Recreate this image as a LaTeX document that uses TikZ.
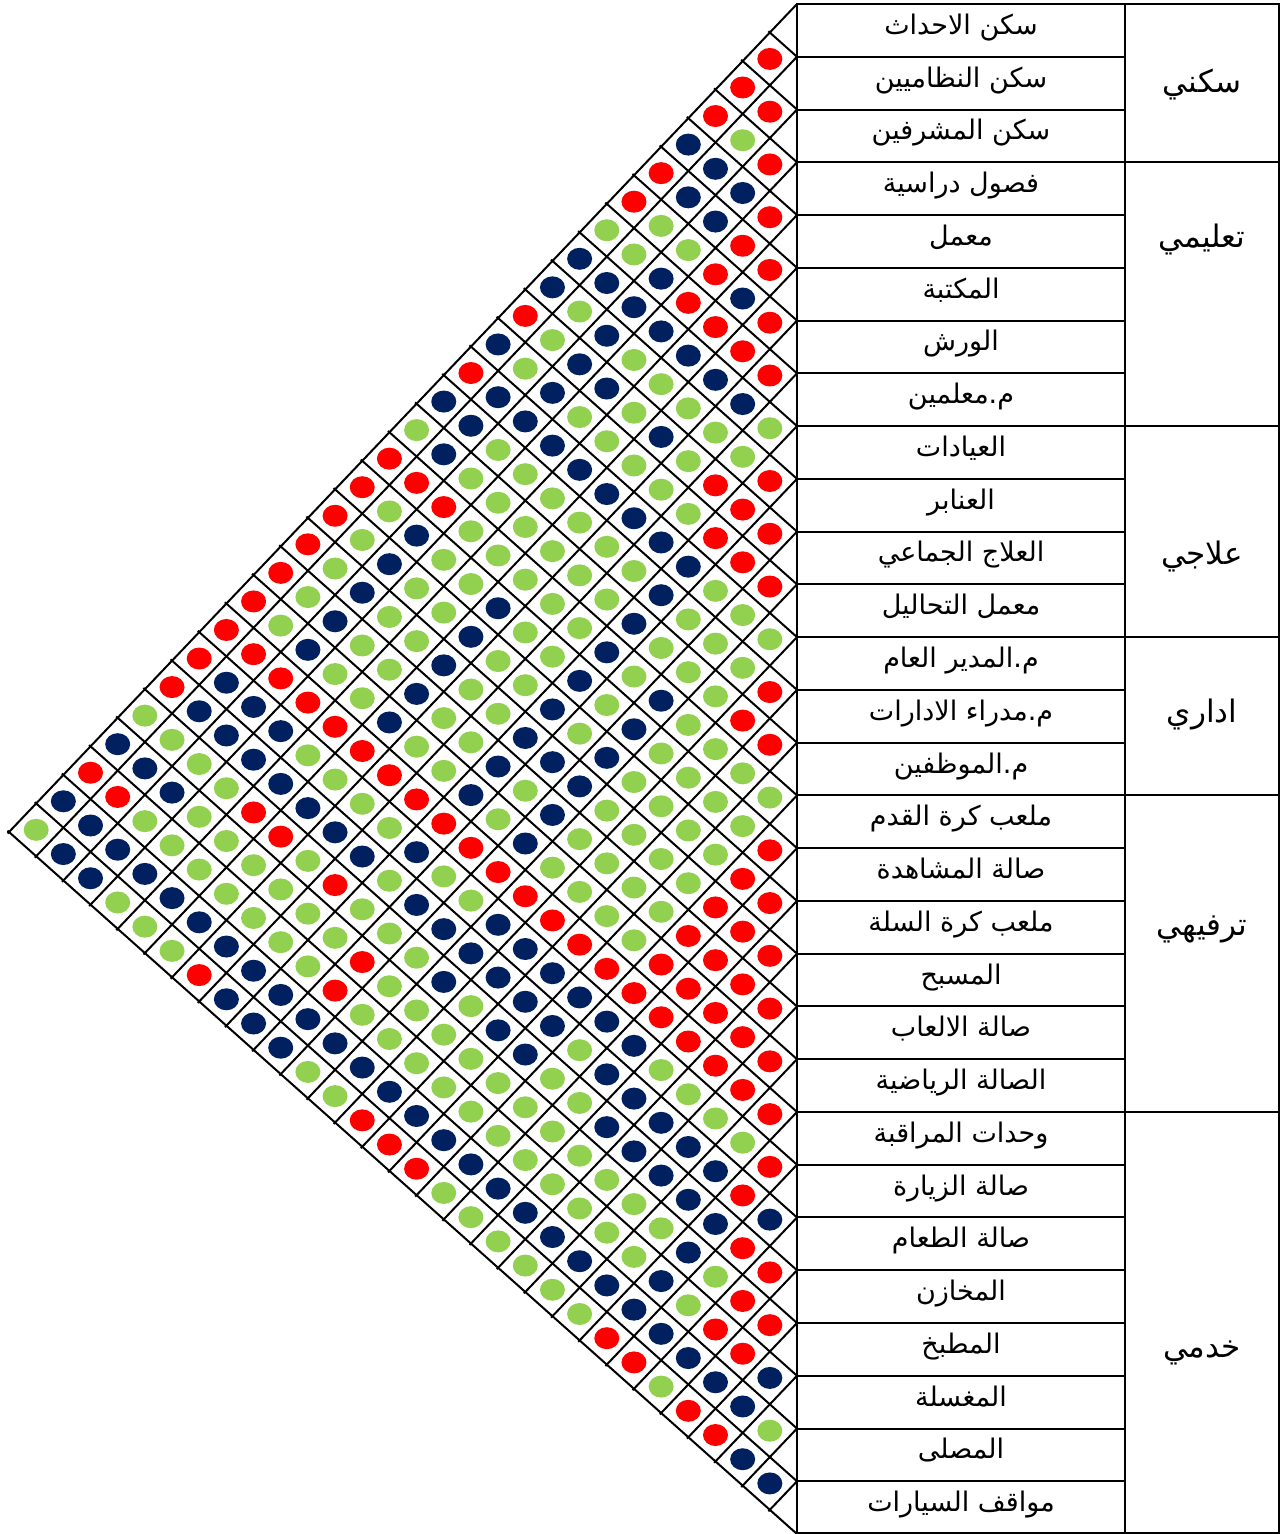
\documentclass[tikz,border=0pt]{standalone}
\usepackage{fontspec}
\newfontfamily\arabicfont[Script=Arabic]{DejaVu Sans}
\TeXXeTstate=1
\definecolor{cred}{HTML}{FF0000}
\definecolor{cnavy}{HTML}{002060}
\definecolor{cgreen}{HTML}{92D050}
\tikzset{
  dotR/.style={fill=cred},
  dotN/.style={fill=cnavy},
  dotG/.style={fill=cgreen},
  gridline/.style={line width=2pt, black, shorten >=-2pt},
  tabline/.style={line width=2pt, black},
  itemtext/.style={font=\arabicfont\fontsize{27}{32}\selectfont, anchor=base, inner sep=0pt},
  cattext/.style={font=\arabicfont\fontsize{31}{36}\selectfont, anchor=base, inner sep=0pt},
}
\begin{document}
\begin{tikzpicture}[x=1pt, y=-1pt]
\useasboundingbox (0,0) rectangle (1281,1534);
% key points of the triangle
\coordinate (A) at (797,4);
\coordinate (B) at (797,1534);
\coordinate (C) at (9,832);
% grid lines: down-left family
\foreach \k in {0,...,28} {
  \pgfmathsetmacro\sy{4+52.759*\k}
  \pgfmathsetmacro\ex{797-27.172*(29-\k)}
  \pgfmathsetmacro\ey{4+52.759*\k+28.552*(29-\k)}
  \coordinate (dl\k s) at (797,\sy);
  \coordinate (dl\k e) at (\ex,\ey);
  \draw[gridline] (dl\k s) -- (dl\k e);
}
% grid lines: up-left family
\foreach \k in {1,...,29} {
  \pgfmathsetmacro\sy{4+52.759*\k}
  \pgfmathsetmacro\ex{797-27.172*\k}
  \pgfmathsetmacro\ey{4+28.552*\k}
  \coordinate (ul\k s) at (797,\sy);
  \coordinate (ul\k e) at (\ex,\ey);
  \draw[gridline] (ul\k s) -- (ul\k e);
}
% relationship dots, one list per diagonal distance d
\foreach \d/\s in {
 1/{R,R,R,R,R,R,R,G,R,R,R,G,R,R,G,R,R,R,R,R,R,R,N,R,R,N,G,N},
 2/{R,G,N,R,N,R,N,G,R,R,G,G,R,G,G,R,R,R,R,R,G,R,R,R,R,N,N},
 3/{R,N,N,R,R,N,G,R,R,G,G,G,G,G,G,R,R,R,R,G,N,N,G,R,N,R},
 4/{N,N,G,R,N,G,G,G,N,G,G,G,G,G,G,R,R,R,G,N,N,N,G,N,R},
 5/{R,G,N,N,G,N,G,N,N,G,N,G,G,G,G,R,R,G,N,N,G,N,N,G},
 6/{R,G,N,G,G,G,N,G,N,G,N,G,G,G,G,R,N,N,N,G,G,N,R},
 7/{G,N,N,N,G,N,G,G,N,G,N,G,G,G,R,N,N,N,G,G,N,R},
 8/{N,G,N,G,N,G,G,G,N,G,N,G,G,R,N,G,G,G,G,N,G},
 9/{N,G,N,N,G,G,G,G,N,N,N,G,R,N,N,G,G,G,N,G},
 10/{R,G,N,G,G,G,G,G,N,G,N,R,N,N,N,G,G,N,G},
 11/{N,N,G,G,G,N,G,G,N,G,R,N,N,N,G,G,N,G},
 12/{R,N,G,G,G,N,G,G,N,R,G,N,G,G,G,N,G},
 13/{N,N,R,G,G,N,G,G,R,G,N,N,G,G,N,G},
 14/{G,R,N,G,G,N,G,R,N,N,G,G,G,N,R},
 15/{R,G,N,G,G,N,R,G,G,G,G,G,N,R},
 16/{R,G,N,G,G,R,G,N,G,R,G,N,R},
 17/{R,G,N,G,R,G,N,R,G,R,N,G},
 18/{R,G,N,R,G,N,G,G,G,N,G},
 19/{R,G,R,N,N,R,G,G,N,N},
 20/{R,R,N,N,R,G,G,N,N},
 21/{R,N,N,G,G,G,N,N},
 22/{R,N,G,G,G,N,R},
 23/{R,G,N,G,N,G},
 24/{G,N,G,N,G},
 25/{N,R,N,G},
 26/{R,N,N},
 27/{N,N},
 28/{G}} {
  \foreach \c [count=\i] in \s {
    \pgfmathsetmacro\px{797-27.172*\d}
    \pgfmathsetmacro\py{4+52.759*(\i-0.5)+28.552*\d}
    \fill[dot\c] (\px,\py) ellipse [x radius=12.5, y radius=11];
  }
}
% table
\draw[tabline] (797,4) rectangle (1279,1533);
\draw[tabline] (1125,4) -- (1125,1533);
\foreach \k in {1,...,28} {
  \pgfmathsetmacro\ry{4+52.759*\k}
  \draw[tabline] (797,\ry) -- (1125,\ry);
}
\foreach \k in {3,8,12,15,21} {
  \pgfmathsetmacro\ry{4+52.759*\k}
  \draw[tabline] (1125,\ry) -- (1279,\ry);
}
% item names
\foreach \t [count=\k] in {سكن الاحداث,سكن النظاميين,سكن المشرفين,فصول دراسية,معمل,المكتبة,الورش,م.معلمين,العيادات,العنابر,العلاج الجماعي,معمل التحاليل,م.المدير العام,م.مدراء الادارات,م.الموظفين,ملعب كرة القدم,صالة المشاهدة,ملعب كرة السلة,المسبح,صالة الالعاب,الصالة الرياضية,وحدات المراقبة,صالة الزيارة,صالة الطعام,المخازن,المطبخ,المغسلة,المصلى,مواقف السيارات} {
  \pgfmathsetmacro\ty{4+52.759*(\k-0.5)+4}
  \node[itemtext] (item\k) at (961,\ty) {\beginR\t\endR};
}
% categories
\node[cattext] (cat1) at (1202,92) {\beginR سكني\endR};
\node[cattext] (cat2) at (1202,247) {\beginR تعليمي\endR};
\node[cattext] (cat3) at (1202,564) {\beginR علاجي\endR};
\node[cattext] (cat4) at (1202,722) {\beginR اداري\endR};
\node[cattext] (cat5) at (1202,935) {\beginR ترفيهي\endR};
\node[cattext] (cat6) at (1202,1357) {\beginR خدمي\endR};
\end{tikzpicture}
\end{document}
